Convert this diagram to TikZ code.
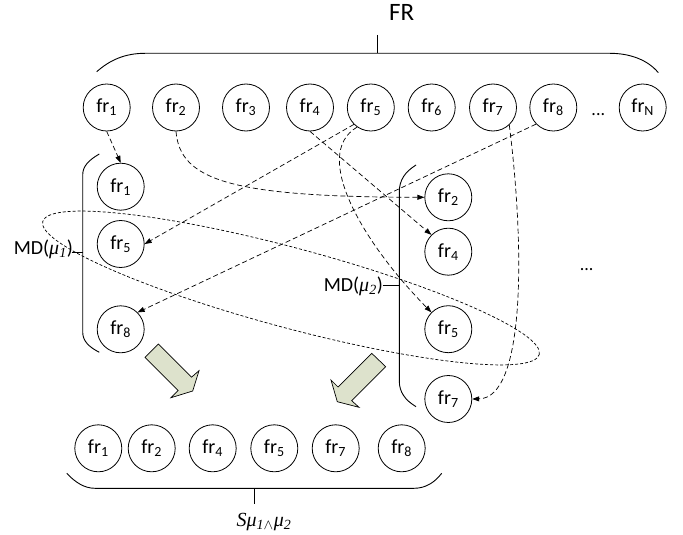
\documentclass[tikz,border=0pt]{standalone}
\usepackage{fontspec}
\setmainfont{Carlito}
\newfontfamily\tnr{Liberation Serif}
\usetikzlibrary{arrows.meta}
\definecolor{arrowfill}{RGB}{221,226,204}
\begin{document}
\begin{tikzpicture}[x=1pt,y=-1pt,
  frnode/.style={draw, circle, minimum size=47pt, inner sep=0pt, line width=0.8pt, font=\fontsize{20}{24}\selectfont},
  conn/.style={line width=0.7pt, dash pattern=on 5pt off 3pt, -{Triangle[length=7pt,width=5pt]}},
  bracketline/.style={line width=0.9pt},
  blockarrow/.style={draw, fill=arrowfill, line width=0.7pt, line join=miter},
  lbl/.style={font=\fontsize{20}{24}\selectfont, inner sep=0pt},
  ellipseline/.style={line width=0.7pt, dash pattern=on 3pt off 2pt}
]
\useasboundingbox (0,0) rectangle (683,535);

% top row
\node[frnode] (t1) at (106.7,107.5) {fr\textsubscript{1}};
\node[frnode] (t2) at (176,107.5) {fr\textsubscript{2}};
\node[frnode] (t3) at (246,107.5) {fr\textsubscript{3}};
\node[frnode] (t4) at (310,107.5) {fr\textsubscript{4}};
\node[frnode] (t5) at (370.8,107.5) {fr\textsubscript{5}};
\node[frnode] (t6) at (431.7,107.5) {fr\textsubscript{6}};
\node[frnode] (t7) at (493,107.5) {fr\textsubscript{7}};
\node[frnode] (t8) at (553.3,107.5) {fr\textsubscript{8}};
\node[frnode] (tN) at (642.7,107.5) {fr\textsubscript{N}};
\node[lbl, font=\fontsize{18}{22}\selectfont, anchor=base] (tdots) at (598.3,115.5) {...};

% top brace
\node[lbl, font=\fontsize{25}{30}\selectfont] (FR) at (401.7,12.8) {FR};
\coordinate (frtick) at (377.3,35);
\coordinate (frmid) at (377.3,53.3);
\draw[bracketline] (96.7,71.7) .. controls (110,60) and (125,53.3) .. (145,53.3) -- (610,53.3) .. controls (630,53.3) and (648,60) .. (658.3,72.7);
\draw[bracketline] (frtick) -- (frmid);

% left column
\node[frnode] (a1) at (120.7,186.7) {fr\textsubscript{1}};
\node[frnode] (a5) at (120.7,244) {fr\textsubscript{5}};
\node[frnode] (a8) at (120.7,329.3) {fr\textsubscript{8}};
\draw[bracketline] (99.3,154) .. controls (89,160) and (82.7,166) .. (82.7,175) -- (82.7,332) .. controls (82.7,341) and (89,347) .. (99.3,352.3);
\node[lbl] (md1) at (43.3,249.3) {MD({\tnr\itshape μ\textsubscript{1}})};
\coordinate (md1a) at (71.7,252.7);
\coordinate (md1b) at (82.7,252.7);
\draw[line width=0.9pt] (md1a) -- (md1b);

% right column
\node[frnode] (b2) at (448.3,197.3) {fr\textsubscript{2}};
\node[frnode] (b4) at (448.3,251.7) {fr\textsubscript{4}};
\node[frnode] (b5) at (448.3,329.2) {fr\textsubscript{5}};
\node[frnode] (b7) at (448.3,399) {fr\textsubscript{7}};
\draw[bracketline] (416,165) .. controls (405,172) and (399.3,180) .. (399.3,192) -- (399.3,381) .. controls (399.3,392) and (405,400) .. (416,406.7);
\node[lbl] (md2) at (353.3,286) {MD({\tnr\itshape μ\textsubscript{2}})};
\coordinate (md2a) at (382.7,285.5);
\coordinate (md2b) at (399.3,285.5);
\draw[line width=1.8pt] (md2a) -- (md2b);
\node[lbl, font=\fontsize{18}{22}\selectfont, anchor=base] (rdots) at (586.7,270.5) {...};

% connectors
\draw[conn] (t1.south) -- (a1.north);
\draw[conn] (t2.south) .. controls (180,180) and (230,197) .. (b2.west);
\draw[conn] (t4.south) -- (b4.135);
\draw[conn] (t5.225) -- (a5.east);
\draw[conn] (t5.235) .. controls (310,155) and (365,245) .. (b5.135);
\draw[conn] (t7.-47) .. controls (525,250) and (525,398) .. (b7.east);
\draw[conn] (t8.224) -- (a8.45);

% dotted ellipse
\draw[ellipseline, rotate around={-15:(291,288)}] (291,288) ellipse [x radius=257pt, y radius=40pt];

% block arrows
\draw[blockarrow] (158.3,344) -- (145,357.3) -- (178.2,390.5) -- (171,397.7) -- (192.7,391) -- (199,370.7) -- (191.5,377.2) -- cycle;
\draw[blockarrow] (371.7,353.3) -- (338,387) -- (331,380) -- (337.3,401.7) -- (359,407.3) -- (351.7,400.7) -- (385.7,366.7) -- cycle;

% bottom row
\node[frnode] (c1) at (98.3,448.3) {fr\textsubscript{1}};
\node[frnode] (c2) at (151.7,448.3) {fr\textsubscript{2}};
\node[frnode] (c4) at (212.7,448.3) {fr\textsubscript{4}};
\node[frnode] (c5) at (274.3,448.3) {fr\textsubscript{5}};
\node[frnode] (c7) at (335.7,448.3) {fr\textsubscript{7}};
\node[frnode] (c8) at (401.7,448.3) {fr\textsubscript{8}};
\draw[bracketline] (66.7,473.3) .. controls (75,482) and (84,488.3) .. (95,488.3) -- (414,488.3) .. controls (426,488.3) and (435,482) .. (441.7,473.3);
\coordinate (smid) at (254.3,488.3);
\coordinate (stick) at (254.3,504);
\draw[bracketline] (smid) -- (stick);
\node[lbl] (S) at (264,521.7) {{\tnr\itshape Sμ\textsubscript{1$\wedge$}μ\textsubscript{2}}};
\end{tikzpicture}
\end{document}
